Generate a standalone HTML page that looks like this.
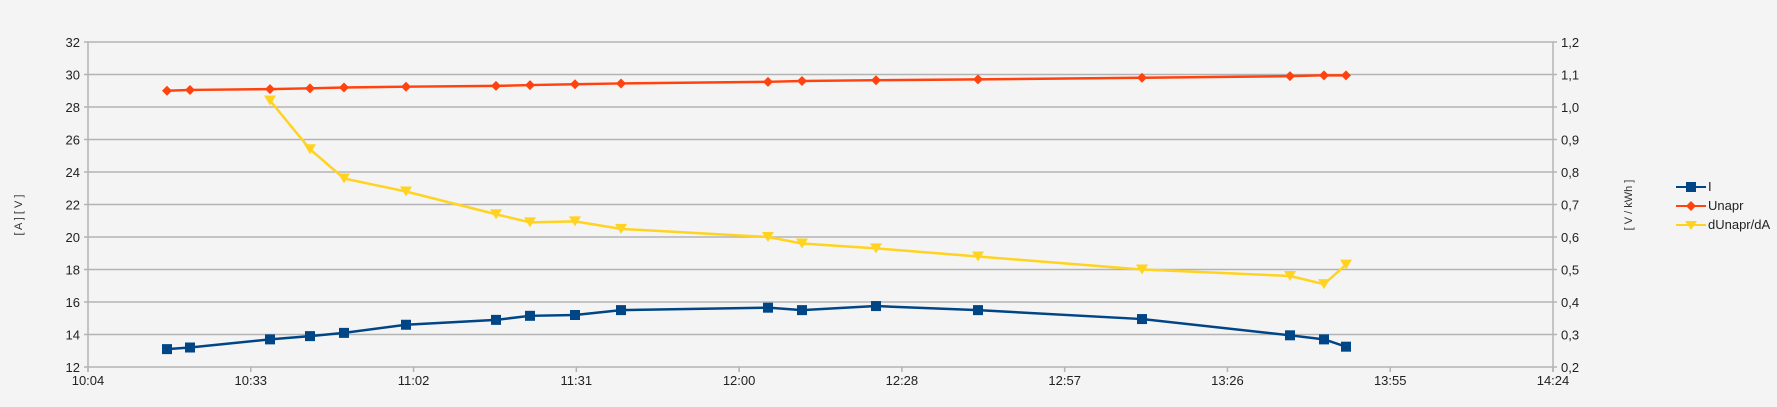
<!DOCTYPE html>
<html><head><meta charset="utf-8"><style>
html,body{margin:0;padding:0;background:#f4f4f4;}
svg{display:block;font-family:"Liberation Sans",sans-serif;}
</style></head><body>
<svg id="c" width="1777" height="407" xmlns="http://www.w3.org/2000/svg">
<rect width="1777" height="407" fill="#f4f4f4"/>
<text x="22" y="215" font-size="11" fill="#333" text-anchor="middle" transform="rotate(-90 22 215)">[ A ]  [ V ]</text>
<text x="1632" y="205" font-size="11" fill="#333" text-anchor="middle" transform="rotate(-90 1632 205)">[ V / kWh ]</text>
<g id="g"></g>
<g font-size="13" fill="#222">
<line x1="1676" y1="187" x2="1706" y2="187" stroke="#004586" stroke-width="2"/><rect x="1686" y="182" width="10" height="10" fill="#004586"/><text x="1708" y="191">I</text>
<line x1="1676" y1="206" x2="1706" y2="206" stroke="#ff420e" stroke-width="2"/><polygon points="1691,201 1696,206 1691,211 1686,206" fill="#ff420e"/><text x="1708" y="210">Unapr</text>
<line x1="1676" y1="225" x2="1706" y2="225" stroke="#ffd320" stroke-width="2"/><polygon points="1685,221 1697,221 1691,230" fill="#ffd320"/><text x="1708" y="229">dUnapr/dA</text>
</g>
</svg>
<script>
var g=document.getElementById('g'),s='';
var L=88,R=1553,T=42,B=367;
for(var i=0;i<=10;i++){var y=T+(B-T)*i/10;
s+='<line x1="'+(L-4)+'" y1="'+y+'" x2="'+(R+4)+'" y2="'+y+'" stroke="#b3b3b3" stroke-width="1.5"/>';
s+='<text x="'+(L-8)+'" y="'+(y+5)+'" font-size="13" text-anchor="end" fill="#222">'+(32-2*i)+'</text>';
s+='<text x="'+(R+8)+'" y="'+(y+5)+'" font-size="13" fill="#222">'+(1.2-0.1*i).toFixed(1).replace('.',',')+'</text>';}
s+='<line x1="'+L+'" y1="'+T+'" x2="'+L+'" y2="'+(B+5)+'" stroke="#b3b3b3" stroke-width="1.5"/>';
s+='<line x1="'+R+'" y1="'+T+'" x2="'+R+'" y2="'+(B+5)+'" stroke="#b3b3b3" stroke-width="1.5"/>';
var xl=['10:04','10:33','11:02','11:31','12:00','12:28','12:57','13:26','13:55','14:24'];
for(var i=0;i<10;i++){var x=L+(R-L)*i/9;
s+='<line x1="'+x+'" y1="'+B+'" x2="'+x+'" y2="'+(B+5)+'" stroke="#b3b3b3" stroke-width="1.5"/>';
s+='<text x="'+x+'" y="'+(B+18)+'" font-size="13" text-anchor="middle" fill="#222">'+xl[i]+'</text>';}
var X=[167,190,270,310,344,406,496,530,575,621,768,802,876,978,1142,1290,1324,1346];
var I=[13.1,13.2,13.7,13.9,14.1,14.6,14.9,15.15,15.2,15.5,15.65,15.5,15.75,15.5,14.95,13.95,13.7,13.25];
var U=[29.0,29.05,29.1,29.15,29.2,29.25,29.3,29.35,29.4,29.45,29.55,29.6,29.65,29.7,29.8,29.9,29.95,29.95];
var D=[1.02,0.87,0.78,0.74,0.67,0.645,0.648,0.625,0.60,0.58,0.565,0.54,0.50,0.48,0.455,0.515];
function yl(v){return B-(v-12)*16.25;}function yr(v){return B-(v-0.2)*325;}
function line(pts,c){return '<polyline points="'+pts.map(function(p){return p.join(',')}).join(' ')+'" fill="none" stroke="'+c+'" stroke-width="2.5"/>';}
var pi=X.map(function(x,k){return [x,yl(I[k])]}),pu=X.map(function(x,k){return [x,yl(U[k])]}),pd=D.map(function(v,k){return [X[k+2],yr(v)]});
s+=line(pd,'#ffd320');
pd.forEach(function(p){s+='<polygon points="'+(p[0]-6)+','+(p[1]-5)+' '+(p[0]+6)+','+(p[1]-5)+' '+p[0]+','+(p[1]+5)+'" fill="#ffd320"/>';});
s+=line(pu,'#ff420e');
pu.forEach(function(p){s+='<polygon points="'+p[0]+','+(p[1]-5)+' '+(p[0]+5)+','+p[1]+' '+p[0]+','+(p[1]+5)+' '+(p[0]-5)+','+p[1]+'" fill="#ff420e"/>';});
s+=line(pi,'#004586');
pi.forEach(function(p){s+='<rect x="'+(p[0]-5)+'" y="'+(p[1]-5)+'" width="10" height="10" fill="#004586"/>';});
g.innerHTML=s;
</script>
</body></html>
